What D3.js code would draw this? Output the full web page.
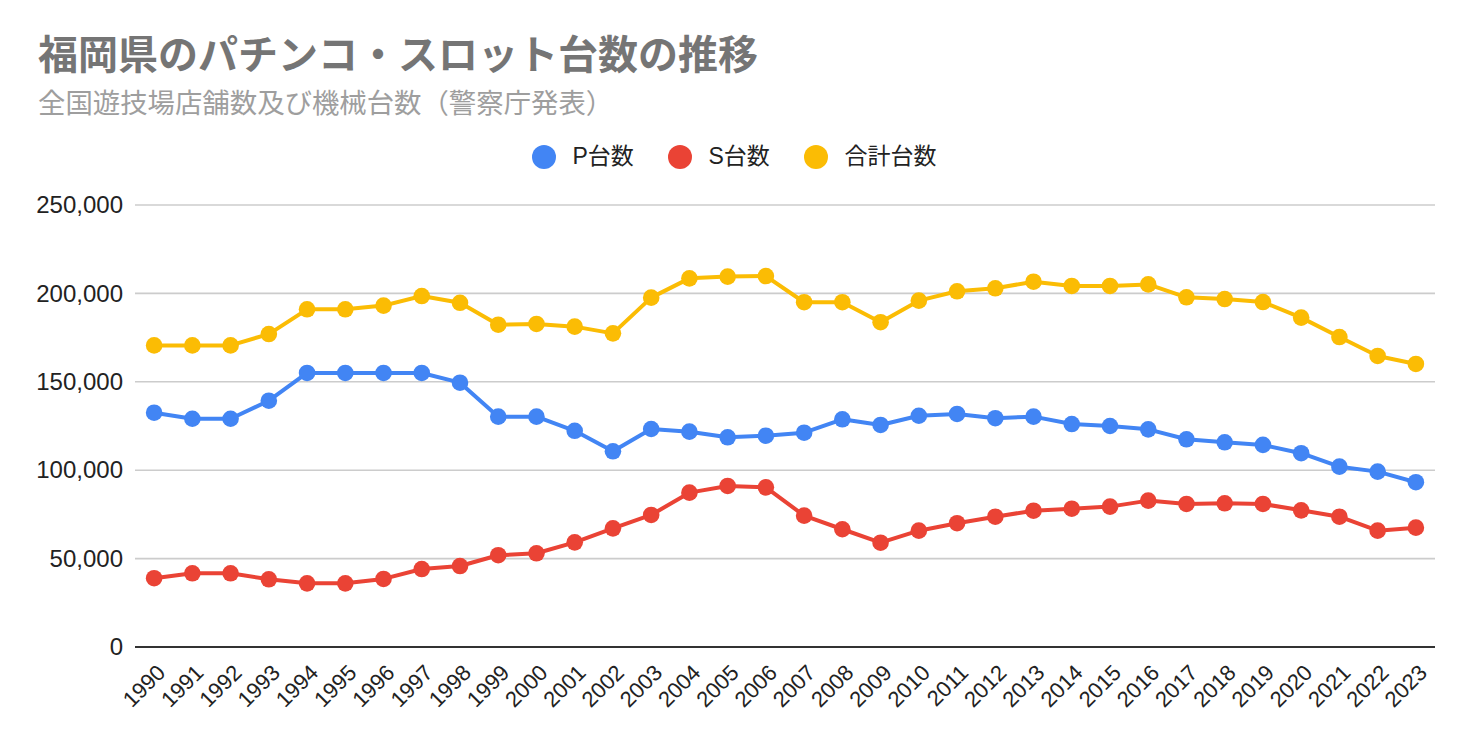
<!DOCTYPE html>
<html>
<head>
<meta charset="utf-8">
<script src="https://cdn.jsdelivr.net/npm/d3@7"></script>
<style>
  html, body { margin: 0; padding: 0; background: #fff; }
  svg { display: block; }
</style>
</head>
<body>
<svg id="chart" width="1472" height="742"></svg>
<script>
const years = ["1990","1991","1992","1993","1994","1995","1996","1997","1998","1999","2000","2001","2002","2003","2004","2005","2006","2007","2008","2009","2010","2011","2012","2013","2014","2015","2016","2017","2018","2019","2020","2021","2022","2023"];
const pValues = [132500,129100,129100,139300,155000,155000,155000,155000,149500,130300,130300,122300,110700,123300,121800,118600,119500,121200,128800,125600,130800,131800,129400,130300,126100,125000,123100,117500,115800,114300,109600,102000,99200,93200];
const sValues = [38900,41700,41700,38300,36000,36000,38500,44100,45800,51900,53000,59200,67100,74700,87300,91100,90300,74300,66600,59000,65800,70000,73700,77100,78200,79400,82800,80900,81300,80900,77300,73700,65800,67500];
const totalValues = [170600,170600,170600,177000,191000,191000,193100,198500,194700,182300,182700,181200,177400,197600,208500,209500,209800,195000,195000,183700,195900,201200,202900,206600,204200,204200,205100,197800,196800,195100,186300,175300,164600,160100];
const yTicks = [0,50000,100000,150000,200000,250000];
const seriesNames = ["P台数","S台数","合計台数"];
const seriesColors = ["#4285F4","#EA4335","#FBBC04"];
const titleText = "福岡県のパチンコ・スロット台数の推移";
const subtitleText = "全国遊技場店舗数及び機械台数（警察庁発表）";

(function () {
const svg = d3.select("#chart");
const plotLeft = 135, plotRight = 1435, plotTop = 205, plotBottom = 647;
const fontLatin = "'Liberation Sans', Arial, 'Noto Sans CJK JP', sans-serif";
const fontCJK = "'Noto Sans CJK JP', 'Liberation Sans', Arial, sans-serif";

// Title
svg.append("text").attr("x", 38).attr("y", 69)
  .attr("font-family", fontCJK).attr("font-weight", "bold")
  .attr("font-size", 40).attr("fill", "#757575").text(titleText);
svg.append("text").attr("x", 38).attr("y", 113)
  .attr("font-family", fontCJK)
  .attr("font-size", 27.4).attr("fill", "#9e9e9e").text(subtitleText);

const x = d3.scalePoint().domain(years).range([plotLeft, plotRight]).padding(0.5);
const y = d3.scaleLinear().domain([0, 250000]).range([plotBottom, plotTop]);

// Gridlines
svg.append("g").selectAll("line").data(yTicks.filter(d => d !== 0)).join("line")
  .attr("x1", plotLeft).attr("x2", plotRight)
  .attr("y1", d => y(d)).attr("y2", d => y(d))
  .attr("stroke", "#cccccc").attr("stroke-width", 1.6);

// Y axis labels
const yAxis = d3.axisLeft(y).tickValues(yTicks).tickSize(0).tickPadding(12)
  .tickFormat(d3.format(","));
const gy = svg.append("g").attr("transform", `translate(${plotLeft},0)`).call(yAxis);
gy.select(".domain").remove();
gy.selectAll("text").attr("font-family", fontLatin).attr("font-size", 24).attr("fill", "#222");

// X axis
const xAxis = d3.axisBottom(x).tickSize(0).tickPadding(0);
const gx = svg.append("g").attr("transform", `translate(0,${plotBottom})`).call(xAxis);
gx.select(".domain").remove();
gx.selectAll("text")
  .attr("font-family", fontLatin).attr("font-size", 22).attr("fill", "#222")
  .attr("text-anchor", "end").attr("dy", null).attr("y", null)
  .attr("transform", "translate(12,27) rotate(-45)");

svg.append("line").attr("x1", plotLeft).attr("x2", plotRight)
  .attr("y1", y(0)).attr("y2", y(0))
  .attr("stroke", "#333333").attr("stroke-width", 2);

// Series
const series = [pValues, sValues, totalValues];
const line = d3.line().x((d, i) => x(years[i])).y(d => y(d));
[0, 1, 2].forEach(si => {
  const vals = series[si];
  svg.append("path").datum(vals)
    .attr("d", line).attr("fill", "none")
    .attr("stroke", seriesColors[si]).attr("stroke-width", 4)
    .attr("stroke-linejoin", "round");
  svg.append("g").selectAll("circle").data(vals).join("circle")
    .attr("cx", (d, i) => x(years[i])).attr("cy", d => y(d))
    .attr("r", 8.3).attr("fill", seriesColors[si]);
});

// Legend
const legendX = [544, 680, 816];
const lg = svg.append("g");
seriesNames.forEach((name, i) => {
  lg.append("circle").attr("cx", legendX[i]).attr("cy", 157).attr("r", 12)
    .attr("fill", seriesColors[i]);
  lg.append("text").attr("x", legendX[i] + 28.5).attr("y", 164)
    .attr("font-family", fontLatin).attr("font-size", 23).attr("fill", "#222")
    .text(name);
});
})();
</script>
</body>
</html>
